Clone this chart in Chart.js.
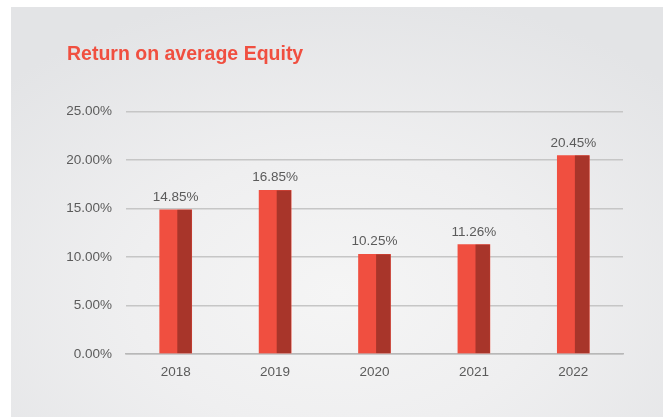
<!DOCTYPE html>
<html>
<head>
<meta charset="utf-8">
<script src="https://cdn.jsdelivr.net/npm/chart.js@4/dist/chart.umd.min.js"></script>
<style>
  html, body { margin: 0; padding: 0; background: #fff; }
  #wrap { position: relative; width: 663px; height: 417px; overflow: hidden; }
  #panel {
    position: absolute; left: 11px; top: 7px; width: 652px; height: 410px;
    background: radial-gradient(ellipse 70% 75% at 50% 70%, #f5f5f5 0%, #efeff0 45%, #e3e4e6 100%);
  }
  #roe { position: absolute; left: 0; top: 0; }
</style>
</head>
<body>
<div id="wrap">
  <div id="panel"></div>
  <canvas id="roe" width="663" height="417"></canvas>
</div>
<script>
const years = ['2018', '2019', '2020', '2021', '2022'];
const roeValues = [14.85, 16.85, 10.25, 11.26, 20.45];
const yTicks = [0, 5, 10, 15, 20, 25];

const LIGHT = '#f04f40';
const DARK = '#a8352a';
const TEXT = '#5b5b5b';

// right-hand shade of each bar plus the value printed above it
const barExtras = {
  id: 'barExtras',
  afterDatasetsDraw(chart) {
    const ctx = chart.ctx;
    const meta = chart.getDatasetMeta(0);
    ctx.save();
    meta.data.forEach((bar, i) => {
      const { x, y, base, width } = bar.getProps(['x', 'y', 'base', 'width'], true);
      const left = x - width / 2;
      const split = left + width * 0.55;
      ctx.fillStyle = DARK;
      ctx.fillRect(split, y, left + width - split, base - y);

      ctx.fillStyle = TEXT;
      ctx.font = '13.5px "Liberation Sans", Arial, sans-serif';
      ctx.textAlign = 'center';
      ctx.textBaseline = 'alphabetic';
      ctx.fillText(roeValues[i].toFixed(2) + '%', x, y - 9);
    });
    ctx.restore();
  }
};

new Chart(document.getElementById('roe'), {
  type: 'bar',
  data: {
    labels: years,
    datasets: [{
      label: 'Return on average Equity',
      data: roeValues,
      backgroundColor: LIGHT,
      borderWidth: 0,
      barThickness: 32
    }]
  },
  options: {
    responsive: false,
    animation: false,
    layout: { padding: { left: 67, right: 40, top: 0, bottom: 27 } },
    plugins: {
      legend: { display: false },
      tooltip: { enabled: false },
      title: {
        display: true,
        text: 'Return on average Equity',
        align: 'start',
        color: '#f04f40',
        font: { family: '"Liberation Sans", Arial, sans-serif', size: 19.5, weight: 'bold', lineHeight: 1.2 },
        padding: { top: 43, bottom: 45 }
      }
    },
    scales: {
      x: {
        grid: { display: false, drawTicks: false },
        border: { display: true, color: '#b8b8b8', width: 1.5 },
        ticks: {
          color: TEXT,
          padding: 10,
          font: { family: '"Liberation Sans", Arial, sans-serif', size: 13.5 }
        }
      },
      y: {
        min: 0,
        max: 25,
        afterBuildTicks(scale) {
          scale.ticks = yTicks.map(v => ({ value: v }));
        },
        afterFit(scale) { scale.width = 59; },
        grid: { color: '#c6c6c6', lineWidth: 1.5, drawTicks: false },
        border: { display: false },
        ticks: {
          color: TEXT,
          padding: 14,
          font: { family: '"Liberation Sans", Arial, sans-serif', size: 13.5 },
          callback: v => v.toFixed(2) + '%'
        }
      }
    }
  },
  plugins: [barExtras]
});
</script>
</body>
</html>
